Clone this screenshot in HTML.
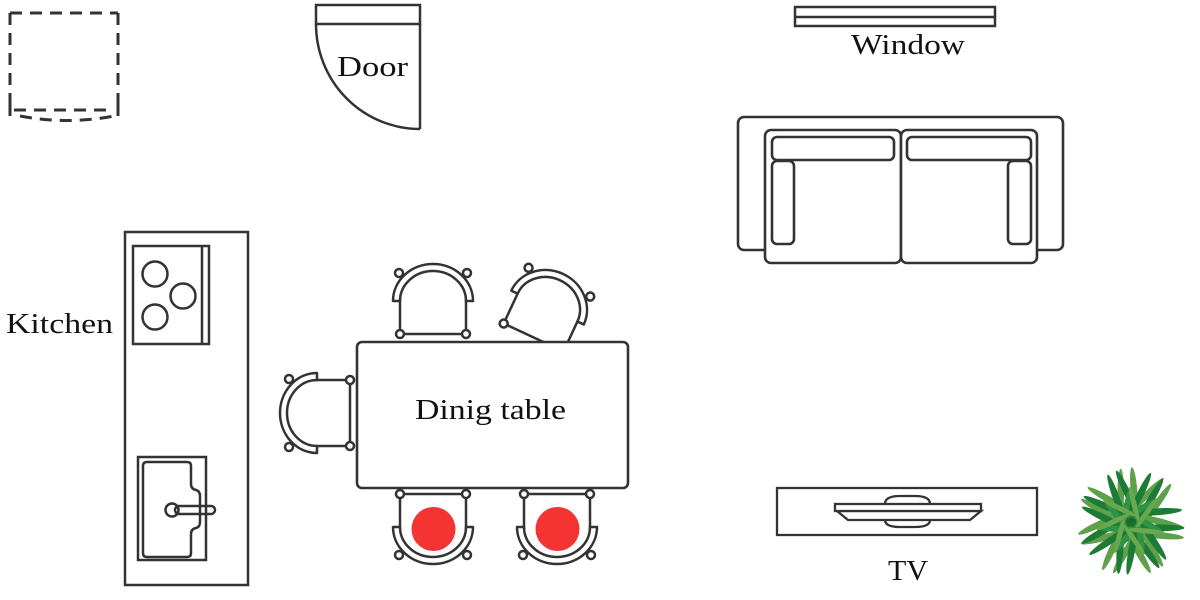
<!DOCTYPE html>
<html><head><meta charset="utf-8"><style>
html,body{margin:0;padding:0;background:#fff;}
svg{display:block;}
text{font-family:"Liberation Serif",serif;fill:#111;}
</style></head><body>
<svg width="1200" height="600" viewBox="0 0 1200 600" xmlns="http://www.w3.org/2000/svg">
<defs>
<g id="chair" fill="#fff" stroke="#333" stroke-width="2.5" stroke-linejoin="round">
  <path d="M -33,-10 L -33,27 L 33,27 L 33,-10"/>
  <path d="M -40,-6 A 40 37 0 0 1 40,-6 L 33,-6 A 33 30 0 0 0 -33,-6 Z"/>
  <circle cx="-34" cy="-34" r="4"/>
  <circle cx="34" cy="-34" r="4"/>
  <circle cx="-33" cy="27" r="4"/>
  <circle cx="33" cy="27" r="4"/>
</g>
</defs>

<!-- dashed box -->
<g fill="none" stroke="#333" stroke-width="3" stroke-dasharray="12 8">
  <path d="M10,13 H118"/>
  <path d="M10,13 V110"/>
  <path d="M118,13 V110"/>
  <path d="M14,110 H114"/>
  <path d="M20,116 Q67,125 114,116"/>
</g>
<g stroke="#333" stroke-width="3"><path d="M10,104 V116"/><path d="M118,104 V116"/></g>

<!-- door -->
<g fill="none" stroke="#333" stroke-width="2.5">
  <rect x="316" y="5" width="104" height="19"/>
  <path d="M420,24 V129"/>
  <path d="M316,24 A 104 105 0 0 0 420,129"/>
</g>
<text x="337" y="76" font-size="28" textLength="71" lengthAdjust="spacingAndGlyphs">Door</text>

<!-- window -->
<g fill="none" stroke="#333" stroke-width="2.5">
  <rect x="795" y="7" width="200" height="19"/>
  <path d="M795,17 H995"/>
</g>
<text x="851" y="54" font-size="28" textLength="114" lengthAdjust="spacingAndGlyphs">Window</text>

<!-- sofa -->
<g fill="#fff" stroke="#333" stroke-width="2.6">
  <rect x="738" y="117" width="325" height="133" rx="6"/>
  <rect x="765" y="130" width="136" height="133" rx="6"/>
  <rect x="901" y="130" width="136" height="133" rx="6"/>
  <rect x="772" y="137" width="122" height="23" rx="5"/>
  <rect x="907" y="137" width="124" height="23" rx="5"/>
  <rect x="772" y="161" width="22" height="83" rx="5"/>
  <rect x="1008" y="161" width="23" height="83" rx="5"/>
</g>

<!-- kitchen -->
<text x="6" y="333" font-size="28" textLength="107" lengthAdjust="spacingAndGlyphs">Kitchen</text>
<g fill="none" stroke="#333" stroke-width="2.5">
  <rect x="125" y="232" width="123" height="353"/>
  <rect x="133" y="246" width="76" height="98"/>
  <path d="M202,246 V344"/>
  <circle cx="155" cy="274" r="12.5"/>
  <circle cx="183" cy="296" r="12.5"/>
  <circle cx="155" cy="317" r="12.5"/>
  <rect x="138" y="457" width="68" height="103"/>
  <path d="M147,462 H187 Q191,462 191,466 V484 Q191,489 196,490 Q200,491 200,496 V522 Q200,527 196,528 Q191,529 191,534 V553 Q191,557 187,557 H147 Q143,557 143,553 V466 Q143,462 147,462 Z"/>
  <circle cx="172" cy="510" r="6.5"/>
  <rect x="175" y="506" width="40" height="8" rx="4"/>
</g>

<!-- chairs -->
<use href="#chair" transform="translate(433,307)"/>
<use href="#chair" transform="translate(545,313) rotate(25)"/>
<use href="#chair" transform="translate(323,413) rotate(-90)"/>

<!-- table -->
<rect x="357" y="342" width="271" height="146" rx="5" fill="#fff" stroke="#333" stroke-width="2.6"/>
<text x="415" y="419" font-size="28" textLength="151" lengthAdjust="spacingAndGlyphs">Dinig table</text>

<use href="#chair" transform="translate(433,521) rotate(180)"/>
<use href="#chair" transform="translate(557,521) rotate(180)"/>
<circle cx="433.5" cy="529" r="22" fill="#f43333"/>
<circle cx="557.5" cy="529" r="22" fill="#f43333"/>

<!-- TV -->
<g fill="#fff" stroke="#333" stroke-width="2.3">
  <rect x="777" y="488" width="260" height="47"/>
  <path d="M885,504 Q885,496 900,496 H915 Q930,496 930,504"/>
  <path d="M885,520 Q885,527 900,527 H915 Q930,527 930,520"/>
  <path d="M837,511 L848,520 H970 L981,511 Z"/>
  <rect x="835" y="504" width="146" height="7"/>
</g>
<text x="888" y="580" font-size="28" textLength="40" lengthAdjust="spacingAndGlyphs">TV</text>

<!-- plant -->
<g>
  <circle cx="1131" cy="522" r="20" fill="#1b6a2e"/>
  <g fill="#5fa04a">
    <ellipse rx="24" ry="3.3" transform="translate(1131 522) rotate(0) translate(30 0) rotate(15)"/>
    <ellipse rx="24" ry="3.3" transform="translate(1131 522) rotate(25) translate(32 0) rotate(-20)"/>
    <ellipse rx="25" ry="3.3" transform="translate(1131 522) rotate(50) translate(30 0) rotate(10)"/>
    <ellipse rx="22" ry="3.3" transform="translate(1131 522) rotate(75) translate(33 0) rotate(-15)"/>
    <ellipse rx="25" ry="3.3" transform="translate(1131 522) rotate(100) translate(30 0) rotate(20)"/>
    <ellipse rx="24" ry="3.3" transform="translate(1131 522) rotate(125) translate(32 0) rotate(-10)"/>
    <ellipse rx="24" ry="3.3" transform="translate(1131 522) rotate(150) translate(31 0) rotate(15)"/>
    <ellipse rx="22" ry="3.3" transform="translate(1131 522) rotate(175) translate(33 0) rotate(-20)"/>
    <ellipse rx="25" ry="3.3" transform="translate(1131 522) rotate(200) translate(30 0) rotate(10)"/>
    <ellipse rx="24" ry="3.3" transform="translate(1131 522) rotate(225) translate(32 0) rotate(-15)"/>
    <ellipse rx="25" ry="3.3" transform="translate(1131 522) rotate(250) translate(30 0) rotate(20)"/>
    <ellipse rx="22" ry="3.3" transform="translate(1131 522) rotate(275) translate(33 0) rotate(-10)"/>
    <ellipse rx="24" ry="3.3" transform="translate(1131 522) rotate(300) translate(31 0) rotate(15)"/>
    <ellipse rx="24" ry="3.3" transform="translate(1131 522) rotate(325) translate(32 0) rotate(-20)"/>
  </g>
  <g fill="#1e7b36">
    <ellipse rx="26" ry="3.4" transform="translate(1131 522) rotate(12) translate(28 0) rotate(-12)"/>
    <ellipse rx="26" ry="3.4" transform="translate(1131 522) rotate(38) translate(26 0) rotate(18)"/>
    <ellipse rx="24" ry="3.4" transform="translate(1131 522) rotate(62) translate(30 0) rotate(-8)"/>
    <ellipse rx="26" ry="3.4" transform="translate(1131 522) rotate(88) translate(27 0) rotate(12)"/>
    <ellipse rx="25" ry="3.4" transform="translate(1131 522) rotate(112) translate(29 0) rotate(-18)"/>
    <ellipse rx="26" ry="3.4" transform="translate(1131 522) rotate(138) translate(27 0) rotate(8)"/>
    <ellipse rx="24" ry="3.4" transform="translate(1131 522) rotate(162) translate(30 0) rotate(-12)"/>
    <ellipse rx="26" ry="3.4" transform="translate(1131 522) rotate(188) translate(26 0) rotate(18)"/>
    <ellipse rx="25" ry="3.4" transform="translate(1131 522) rotate(212) translate(29 0) rotate(-8)"/>
    <ellipse rx="26" ry="3.4" transform="translate(1131 522) rotate(238) translate(27 0) rotate(12)"/>
    <ellipse rx="24" ry="3.4" transform="translate(1131 522) rotate(262) translate(30 0) rotate(-18)"/>
    <ellipse rx="26" ry="3.4" transform="translate(1131 522) rotate(288) translate(27 0) rotate(8)"/>
    <ellipse rx="25" ry="3.4" transform="translate(1131 522) rotate(312) translate(29 0) rotate(-12)"/>
    <ellipse rx="26" ry="3.4" transform="translate(1131 522) rotate(338) translate(27 0) rotate(18)"/>
  </g>
  <g fill="#2e9444">
    <ellipse rx="18" ry="3" transform="translate(1131 522) rotate(5) translate(16 0) rotate(25)"/>
    <ellipse rx="18" ry="3" transform="translate(1131 522) rotate(55) translate(16 0) rotate(25)"/>
    <ellipse rx="18" ry="3" transform="translate(1131 522) rotate(105) translate(16 0) rotate(25)"/>
    <ellipse rx="18" ry="3" transform="translate(1131 522) rotate(155) translate(16 0) rotate(25)"/>
    <ellipse rx="18" ry="3" transform="translate(1131 522) rotate(205) translate(16 0) rotate(25)"/>
    <ellipse rx="18" ry="3" transform="translate(1131 522) rotate(255) translate(16 0) rotate(25)"/>
    <ellipse rx="18" ry="3" transform="translate(1131 522) rotate(305) translate(16 0) rotate(25)"/>
  </g>
  <g fill="#6aa84f">
    <ellipse rx="18" ry="2.6" transform="translate(1131 522) rotate(30) translate(18 0) rotate(-25)"/>
    <ellipse rx="18" ry="2.6" transform="translate(1131 522) rotate(80) translate(18 0) rotate(-25)"/>
    <ellipse rx="18" ry="2.6" transform="translate(1131 522) rotate(130) translate(18 0) rotate(-25)"/>
    <ellipse rx="18" ry="2.6" transform="translate(1131 522) rotate(180) translate(18 0) rotate(-25)"/>
    <ellipse rx="18" ry="2.6" transform="translate(1131 522) rotate(230) translate(18 0) rotate(-25)"/>
    <ellipse rx="18" ry="2.6" transform="translate(1131 522) rotate(280) translate(18 0) rotate(-25)"/>
    <ellipse rx="18" ry="2.6" transform="translate(1131 522) rotate(330) translate(18 0) rotate(-25)"/>
  </g>
</g>
</svg>
</body></html>
